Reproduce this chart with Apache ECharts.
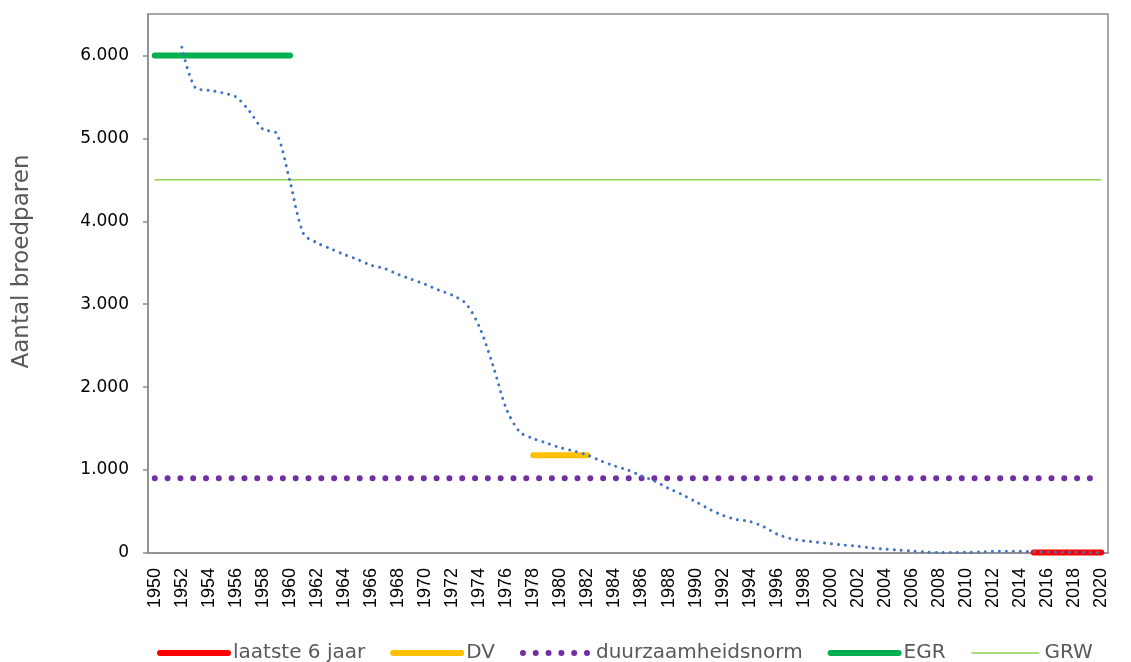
<!DOCTYPE html>
<html lang="nl">
<head>
    <meta charset="UTF-8">
    <title>Aantal broedparen</title>
    <style>
        html, body { margin: 0; padding: 0; background: #fff; }
        #chart { width: 1131px; height: 662px; }
    </style>
</head>
<body>
<div id="chart"></div>
<script src="https://cdn.jsdelivr.net/npm/echarts@6/dist/echarts.min.js"></script>
<script type="text/javascript">
    // jaren op de x-as
    var years = [
        '1950', '1951', '1952', '1953', '1954', '1955', '1956', '1957', '1958', '1959',
        '1960', '1961', '1962', '1963', '1964', '1965', '1966', '1967', '1968', '1969',
        '1970', '1971', '1972', '1973', '1974', '1975', '1976', '1977', '1978', '1979',
        '1980', '1981', '1982', '1983', '1984', '1985', '1986', '1987', '1988', '1989',
        '1990', '1991', '1992', '1993', '1994', '1995', '1996', '1997', '1998', '1999',
        '2000', '2001', '2002', '2003', '2004', '2005', '2006', '2007', '2008', '2009',
        '2010', '2011', '2012', '2013', '2014', '2015', '2016', '2017', '2018', '2019',
        '2020'
    ];

    // aantal broedparen per jaar (1950 en 1951 geen telling)
    var broedparen = [
        null, null, 6100, 5610, 5580, 5550, 5500, 5330, 5110, 5060,
        4480, 3850, 3740, 3670, 3600, 3540, 3470, 3430, 3360, 3300,
        3240, 3170, 3110, 3010, 2730, 2270, 1740, 1460, 1380, 1325,
        1270, 1230, 1180, 1110, 1050, 1000, 930, 865, 780, 705,
        620, 530, 455, 405, 380, 320, 230, 175, 148, 130,
        112, 95, 82, 60, 46, 35, 24, 12, 5, 5,
        8, 12, 20, 22, 20, 15, 12, 10, 10, 8,
        5
    ];

    // referentielijnen: [vanaf, tot] en waarde
    var laatsteJaren = ['2015', '2020'];
    var laatsteWaarde = 5;
    var dvJaren = ['1978', '1982'];
    var dvWaarde = 1180;
    var normJaren = ['1950', '2020'];
    var normWaarde = 900;
    var egrJaren = ['1950', '1960'];
    var egrWaarde = 6000;
    var grwJaren = ['1950', '2020'];
    var grwWaarde = 4500;

    var yTicks = [0, 1000, 2000, 3000, 4000, 5000, 6000];

    var lijn = function (jaren, waarde) {
        return [[jaren[0], waarde], [jaren[1], waarde]];
    };
    var fmt = function (v) {
        return String(v).replace(/\B(?=(\d{3})+(?!\d))/g, '.');
    };

    var chart = echarts.init(document.getElementById('chart'));
    var axisGrey = '#8c8c8c';
    var geenSymbool = { opacity: 0 };

    var option = {
        backgroundColor: '#fff',
        animation: false,
        grid: {
            left: 148, right: 23, top: 14, bottom: 109,
            show: true, borderColor: axisGrey, borderWidth: 1.5
        },
        legend: {
            left: 152, top: 638,
            itemWidth: 68, itemHeight: 18, itemGap: 25,
            itemStyle: geenSymbool,
            textStyle: { fontFamily: 'DejaVu Sans', fontSize: 20, color: '#595959' },
            data: [
                { name: 'laatste 6 jaar', lineStyle: { width: 6 }, itemStyle: geenSymbool },
                { name: 'DV', lineStyle: { width: 6 }, itemStyle: geenSymbool },
                { name: 'duurzaamheidsnorm', lineStyle: { width: 6 }, itemStyle: geenSymbool },
                { name: 'EGR', lineStyle: { width: 6 }, itemStyle: geenSymbool },
                { name: 'GRW', lineStyle: { width: 1.5 }, itemStyle: geenSymbool }
            ]
        },
        xAxis: {
            type: 'category',
            data: years,
            boundaryGap: true,
            axisLine: { lineStyle: { color: axisGrey, width: 1.5 } },
            axisTick: { interval: 0, length: 7, lineStyle: { color: axisGrey, width: 1.5 } },
            axisLabel: {
                interval: 1, rotate: 90, margin: 15,
                fontFamily: 'Liberation Sans', fontSize: 18, color: '#000'
            },
            splitLine: { show: false }
        },
        yAxis: {
            type: 'value',
            min: 0, max: 6500, interval: 1000,
            name: 'Aantal broedparen',
            nameLocation: 'middle',
            nameRotate: 90,
            nameGap: 114,
            nameTextStyle: {
                fontFamily: 'DejaVu Sans', fontSize: 23, color: '#595959',
                padding: [0, 0, 0, 44]
            },
            axisLine: { show: true, lineStyle: { color: axisGrey, width: 1.5 } },
            axisTick: { show: true, length: 5, customValues: yTicks, lineStyle: { color: axisGrey, width: 1.5 } },
            axisLabel: {
                customValues: yTicks, margin: 19,
                fontFamily: 'DejaVu Sans', fontSize: 17, color: '#000',
                formatter: fmt
            },
            splitLine: { show: false }
        },
        series: [
            {
                name: 'laatste 6 jaar', type: 'line', symbol: 'none',
                data: lijn(laatsteJaren, laatsteWaarde),
                lineStyle: { color: '#ff0000', width: 6, cap: 'round' },
                itemStyle: { color: '#ff0000' }
            },
            {
                name: 'DV', type: 'line', symbol: 'none',
                data: lijn(dvJaren, dvWaarde),
                lineStyle: { color: '#ffc000', width: 6, cap: 'round' },
                itemStyle: { color: '#ffc000' }
            },
            {
                name: 'duurzaamheidsnorm', type: 'line', symbol: 'none',
                data: lijn(normJaren, normWaarde),
                lineStyle: { color: '#7030a0', width: 6, cap: 'round', type: [0.01, 12.8] },
                itemStyle: { color: '#7030a0' }
            },
            {
                name: 'EGR', type: 'line', symbol: 'none',
                data: lijn(egrJaren, egrWaarde),
                lineStyle: { color: '#00b050', width: 6, cap: 'round' },
                itemStyle: { color: '#00b050' }
            },
            {
                name: 'GRW', type: 'line', symbol: 'none',
                data: lijn(grwJaren, grwWaarde),
                lineStyle: { color: '#92d050', width: 1.5 },
                itemStyle: { color: '#92d050' }
            },
            {
                name: 'broedparen', type: 'line', symbol: 'none',
                data: broedparen,
                smooth: 0.3,
                lineStyle: { color: '#4472c4', width: 3, cap: 'round', type: [0.01, 7] },
                itemStyle: { color: '#4472c4' }
            }
        ]
    };
    chart.setOption(option);
</script>
</body>
</html>
